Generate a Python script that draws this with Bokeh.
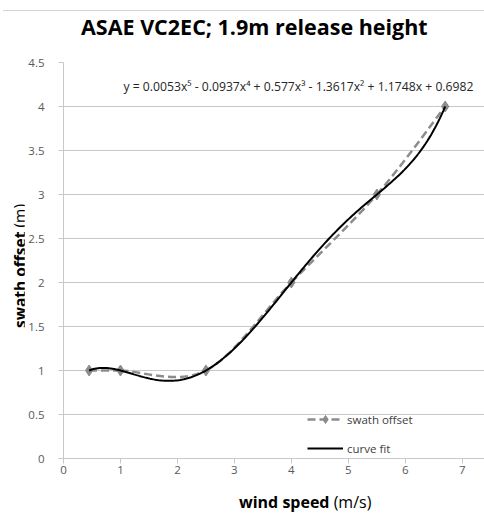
import numpy as np
from bokeh.plotting import figure
from bokeh.layouts import column, row
from bokeh.models import Label, Legend, LegendItem, Range1d, FixedTicker, Div
from bokeh.embed import file_html
from bokeh.resources import INLINE

# Measured swath offset vs wind speed
wind_speed = [0.45, 1.0, 2.5, 4.0, 5.5, 6.7]
swath_offset = [1.0, 1.0, 1.0, 2.0, 3.0, 4.0]

# Trendline equation as displayed on the chart
equation = "y = 0.0053x\u2075 - 0.0937x\u2074 + 0.577x\u00b3 - 1.3617x\u00b2 + 1.1748x + 0.6982"

title_text = "ASAE VC2EC; 1.9m release height"
x_label_bold, x_label_unit = "wind speed", "(m/s)"
y_label_bold, y_label_unit = "swath offset", "(m)"
x_ticks = [0, 1, 2, 3, 4, 5, 6, 7]
y_ticks = [0, 0.5, 1, 1.5, 2, 2.5, 3, 3.5, 4, 4.5]

FONT = "Open Sans"
GRID = "#c8c8c8"
TICK_TXT = "#595959"

p = figure(width=460, height=437, output_backend="svg", toolbar_location=None,
           x_range=Range1d(0, 7.39), y_range=Range1d(0, 4.5),
           min_border_left=39, min_border_right=0, min_border_top=14, min_border_bottom=27,
           margin=0)
p.outline_line_color = None
p.background_fill_color = "white"
p.border_fill_color = "white"

p.xgrid.grid_line_color = None
p.ygrid.grid_line_color = GRID
p.ygrid.ticker = FixedTicker(ticks=y_ticks)

p.xaxis.ticker = FixedTicker(ticks=x_ticks)
p.yaxis.ticker = FixedTicker(ticks=y_ticks)
for ax in (p.xaxis[0], p.yaxis[0]):
    ax.axis_line_color = GRID
    ax.major_tick_line_color = GRID
    ax.major_tick_out = 5
    ax.major_tick_in = 0
    ax.minor_tick_line_color = None
    ax.major_label_text_font = FONT
    ax.major_label_text_font_size = "11.5px"
    ax.major_label_text_color = TICK_TXT
p.xaxis.major_label_standoff = 2
p.yaxis.major_label_standoff = 14

# Smoothed line through the measured points (cardinal spline as cubic Beziers)
px = np.array(wind_speed)
py = np.array(swath_offset)
n = len(px)
x0, y0, x1, y1, cx0, cy0, cx1, cy1 = ([] for _ in range(8))
for i in range(n - 1):
    pxm, pym = (px[i - 1], py[i - 1]) if i > 0 else (px[i], py[i])
    pxp, pyp = (px[i + 2], py[i + 2]) if i + 2 < n else (px[i + 1], py[i + 1])
    x0.append(px[i]); y0.append(py[i])
    x1.append(px[i + 1]); y1.append(py[i + 1])
    cx0.append(px[i] + (px[i + 1] - pxm) / 6); cy0.append(py[i] + (py[i + 1] - pym) / 6)
    cx1.append(px[i + 1] - (pxp - px[i]) / 6); cy1.append(py[i + 1] - (pyp - py[i]) / 6)

smooth = p.bezier(x0=x0, y0=y0, x1=x1, y1=y1, cx0=cx0, cy0=cy0, cx1=cx1, cy1=cy1,
                  line_color="#8c8c8c", line_width=2.5, line_dash="8 4")
pts = p.scatter(wind_speed, swath_offset, marker="diamond", size=11,
                fill_color="#8c8c8c", line_color="#8c8c8c")

# 5th-order polynomial trendline fitted to the measurements
fit_coeffs = np.polyfit(wind_speed, swath_offset, 5)
xf = np.linspace(min(wind_speed), max(wind_speed), 200)
yf = np.polyval(fit_coeffs, xf)
fit = p.line(xf, yf, line_color="black", line_width=2)

legend = Legend(items=[LegendItem(label="swath offset", renderers=[smooth, pts]),
                       LegendItem(label="curve fit", renderers=[fit])],
                location=(244, 0), padding=0, margin=0, spacing=9,
                glyph_width=36, glyph_height=20, label_height=20, label_standoff=4,
                border_line_color=None, background_fill_alpha=0,
                label_text_font=FONT, label_text_font_size="11.5px", label_text_color="#404040")
p.add_layout(legend, "center")

p.add_layout(Label(x=(123 - 63) / 57.0, y=(458 - 86) / 88.0, text=equation, text_font=FONT,
                   text_font_size="12.2px", text_color="#262626",
                   text_align="left", text_baseline="middle"))

# Chart title with the thin top border of the chart area
title_div = Div(width=484, height=48, margin=0, text=(
    '<div style="position:absolute; left:3px; top:10px; width:481px; height:1px;'
    ' background:#d4d4d4;"></div>'
    '<div style="position:absolute; left:81px; top:12px; height:29px; line-height:29px;'
    f' white-space:nowrap; font-family:\'{FONT}\'; font-size:21.5px; font-weight:bold;'
    f' color:black;">{title_text}</div>'))

# Vertical axis title: bold name, regular unit
y_title = Div(width=24, height=437, margin=0, text=(
    '<div style="position:absolute; left:-199px; top:203px; width:437px; height:30px;'
    ' line-height:30px; text-align:center; transform:rotate(-90deg); white-space:nowrap;'
    f' font-family:\'{FONT}\'; font-size:15.5px; color:black;">'
    f'<b>{y_label_bold}</b> {y_label_unit}</div>'))

# Horizontal axis title: bold name, regular unit
x_title = Div(width=484, height=28, margin=0, text=(
    '<div style="position:absolute; left:239px; top:8px; height:19px; line-height:19px;'
    f' white-space:nowrap; font-family:\'{FONT}\'; font-size:16px; color:black;">'
    f'<b>{x_label_bold}</b> {x_label_unit}</div>'))

layout = column(title_div, row(y_title, p, spacing=0), x_title, spacing=0)

open("out.html", "w").write(file_html(layout, INLINE))
